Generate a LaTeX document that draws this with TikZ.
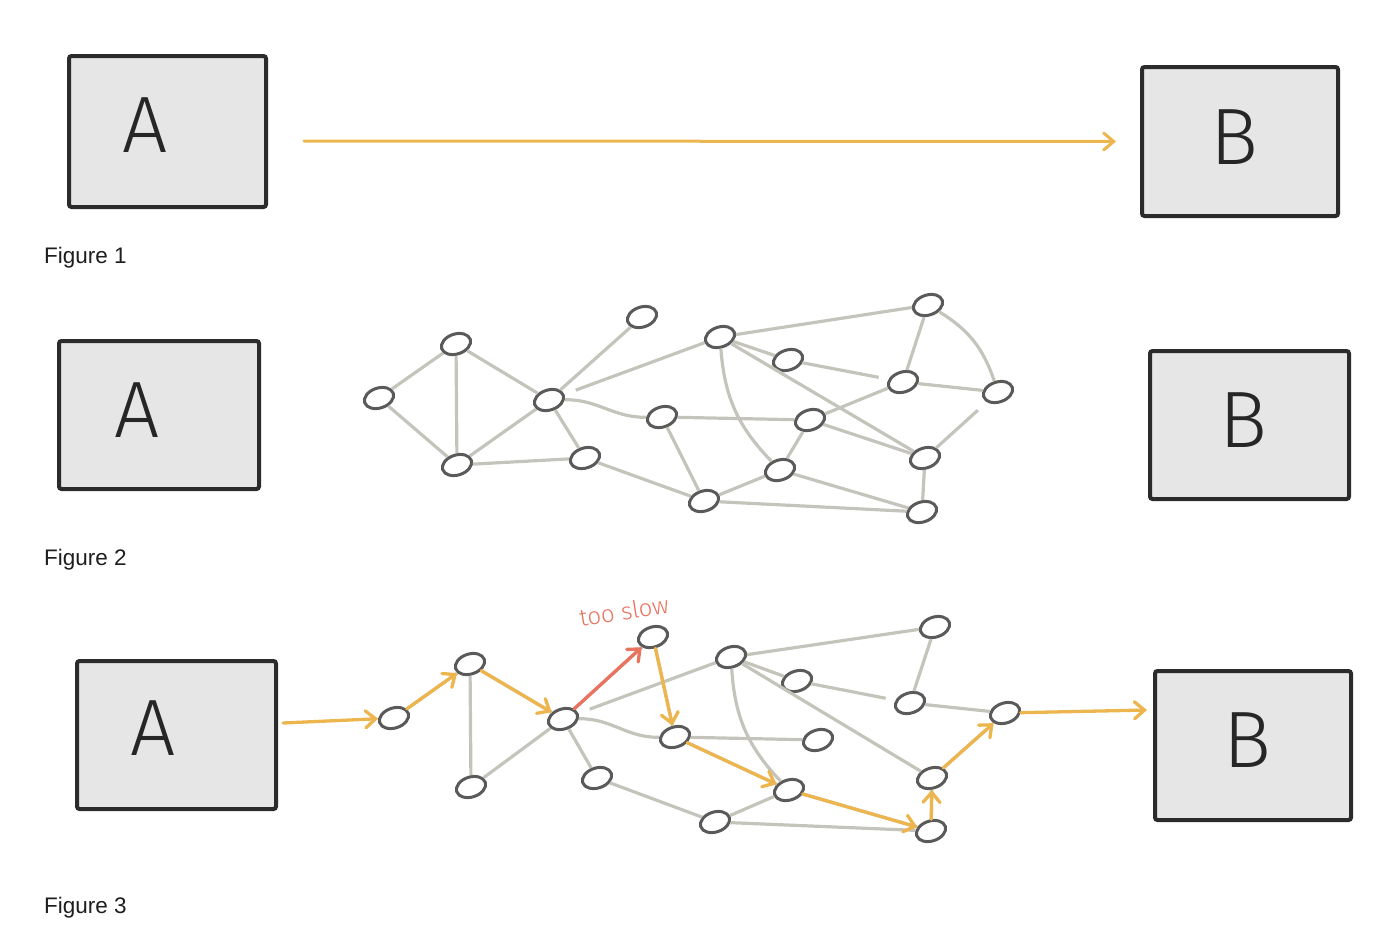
\documentclass[tikz,border=0pt]{standalone}
\usepackage{fontspec}
\setmainfont{Liberation Sans}
\newfontfamily\handfont{Fira Sans Light}
\usetikzlibrary{shapes.geometric,arrows.meta}
\definecolor{boxfill}{HTML}{E6E6E6}
\definecolor{boxline}{HTML}{2B2B2B}
\definecolor{edgec}{HTML}{C4C4BC}
\definecolor{vtxline}{HTML}{5A5A5A}
\definecolor{flowc}{HTML}{EDB54E}
\definecolor{slowc}{HTML}{E9735F}
\definecolor{labelc}{HTML}{1E1E1E}
\begin{document}
\begin{tikzpicture}[x=1pt,y=-1pt,
  box/.style={draw=boxline, fill=boxfill, line width=4pt, rounded corners=2.5pt, inner sep=0pt},
  letter/.style={font=\handfont\fontsize{80}{80}\selectfont, text=black!85, inner sep=0pt},
  figlabel/.style={font=\fontsize{22.5}{26}\selectfont, text=labelc, anchor=base west, inner sep=0pt},
  vtx/.style={draw=vtxline, fill=white, line width=3pt, ellipse, minimum width=30pt, minimum height=20pt, inner sep=0pt, rotate=18},
  edge/.style={draw=edgec, line width=3.2pt},
  flow/.style={draw=flowc, line width=3.3pt, line cap=round,
    -{Straight Barb[length=10pt,width=17pt,line cap=round]}},
  slow/.style={flow, draw=slowc},
]
\useasboundingbox (0,0) rectangle (1394,946);

% ---------- Figure 1: direct connection ----------
\node[box, minimum width=197pt, minimum height=151pt] (A1) at (167.5,131.5) {};
\node[box, minimum width=196pt, minimum height=149pt] (B1) at (1240,141.5) {};
\node[letter] (A1l) at (145,125) {A};
\node[letter] (B1l) at (1234,137) {B};
\draw[flow, line width=3pt] ([xshift=36pt,yshift=-9.5pt]A1.east) -- ([xshift=-24pt]B1.west);
\node[figlabel] (f1) at (44,263) {Figure 1};

% ---------- Figure 2: a mesh between A and B ----------
\node[box, minimum width=200pt, minimum height=148pt] (A2) at (159,415) {};
\node[box, minimum width=199pt, minimum height=148pt] (B2) at (1249.5,425) {};
\node[letter] (A2l) at (137,410) {A};
\node[letter] (B2l) at (1243,420) {B};
\node[figlabel] (f2) at (44,565) {Figure 2};

\foreach \n/\x/\y in {n1/379/398, n2/456/344, n3/457/465, n4/549/400, n5/585/458,
  n6/642/317, n7/662/417, n8/720/337, n9/788/360, n10/810/420, n11/780/470,
  n12/704/501, n13/928/305, n14/903/382, n15/998/392, n16/925/458, n17/922/512}
  \node[vtx] (\n) at (\x,\y) {};

\foreach \a/\b in {n1/n2, n1/n3, n2/n3, n2/n4, n3/n4, n3/n5, n4/n6, n4/n5, n5/n12,
  n7/n12, n7/n10, n8/n13, n8/n9, n8/n16, n13/n14, n14/n15, n10/n14, n10/n11,
  n10/n16, n11/n12, n11/n17, n12/n17, n16/n17}
  \draw[edge] (\a) -- (\b);
\draw[edge, shorten <=12pt] (n4) -- (n8);
\draw[edge, shorten >=10pt] (n9) -- (n14);
\draw[edge, shorten <=12pt] (n15) -- (n16);
\draw[edge] (n4) to[out=-5, in=175] (n7);
\draw[edge] (n8) to[bend right=20] (n11);
\draw[edge] (n13) to[bend left=20] (n15);

% ---------- Figure 3: a route through the mesh ----------
\node[box, minimum width=199pt, minimum height=148pt] (A3) at (176.5,735) {};
\node[box, minimum width=196pt, minimum height=149pt] (B3) at (1253,745.5) {};
\node[letter] (A3l) at (153,728) {A};
\node[letter] (B3l) at (1247,740) {B};
\node[figlabel] (f3) at (44,913) {Figure 3};

\foreach \n/\x/\y in {m1/394/718, m2/470/664, m3/471/787, m4/563/719, m5/597/778,
  m6/653/637, m7/675/737, m8/731/657, m9/797/681, m10/818/740, m11/789/790,
  m12/715/822, m13/935/627, m14/910/703, m15/1005/713, m16/932/778, m17/931/831}
  \node[vtx] (\n) at (\x,\y) {};

\foreach \a/\b in {m1/m2, m2/m3, m2/m4, m3/m4, m4/m6, m4/m5, m5/m12, m6/m7,
  m8/m13, m8/m9, m13/m14, m14/m15, m8/m16, m7/m10, m7/m11, m11/m12, m11/m17,
  m12/m17, m16/m17}
  \draw[edge] (\a) -- (\b);
\draw[edge, shorten <=12pt] (m4) -- (m8);
\draw[edge, shorten >=10pt] (m9) -- (m14);
\draw[edge, shorten >=10pt] (m16) -- (m15);
\draw[edge] (m4) to[out=-5, in=175] (m7);
\draw[edge] (m8) to[bend right=20] (m11);

% the chosen route, drawn over the mesh
\coordinate (a3out) at (283,723);
\coordinate (b3in) at (1147,710);
\draw[flow] (a3out) -- (m1);
\draw[flow] (m1) -- (m2);
\draw[flow] (m2) -- (m4);
\draw[slow] (m4) -- (m6);
\draw[flow] (m6) -- (m7);
\draw[flow] (m7) -- (m11);
\draw[flow] (m11) -- (m17);
\draw[flow] (m17) -- (m16);
\draw[flow] (m16) -- (m15);
\draw[flow] (m15) -- (b3in);
\node[font=\handfont\fontsize{24}{24}\selectfont, text=slowc, rotate=9, inner sep=0pt] (slowtxt) at (624,611) {too slow};
\end{tikzpicture}
\end{document}
